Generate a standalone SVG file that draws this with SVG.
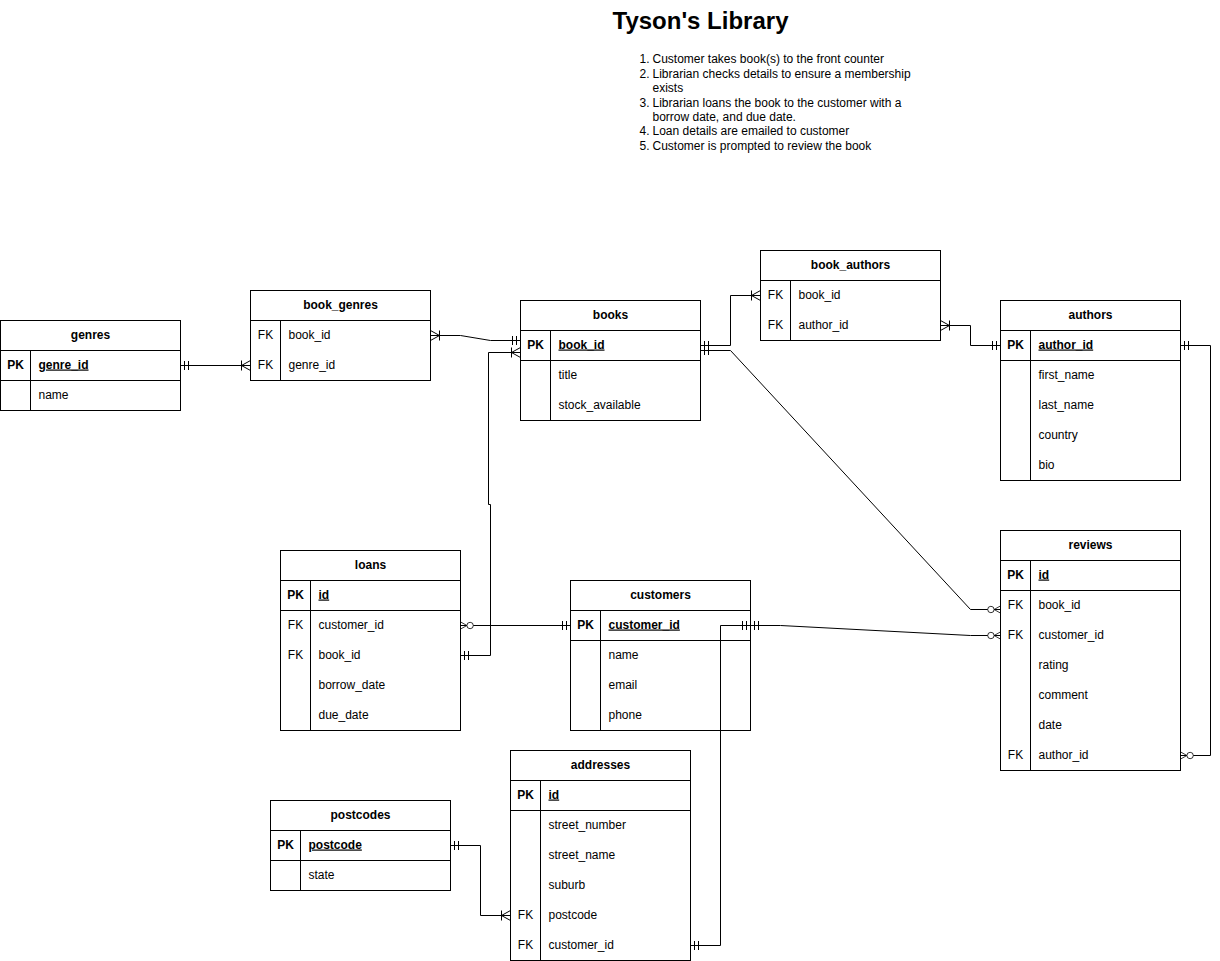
<svg xmlns="http://www.w3.org/2000/svg" width="1220" height="961" viewBox="0 0 1220 961">
<style>
.bg{fill:#fff}
.tb{fill:#fff;stroke:#000;stroke-width:1}
.ln{fill:none;stroke:#000;stroke-width:1}
text{font-family:"Liberation Sans",Arial,sans-serif;font-size:12px;fill:#000}
.h{font-weight:bold;text-anchor:middle}
.k{text-anchor:middle}
.kb{text-anchor:middle;font-weight:bold}
.pk{font-weight:bold;text-decoration:underline}
.title{font-size:24px;font-weight:bold;text-anchor:middle}
</style>
<defs>
<marker id="one" markerUnits="userSpaceOnUse" orient="auto-start-reverse" refX="0" refY="0" markerWidth="20" markerHeight="20" viewBox="-15 -10 20 20" overflow="visible">
<path d="M-4,-4.5V4.5M-8,-4.5V4.5" fill="none" stroke="#000"/>
</marker>
<marker id="many" markerUnits="userSpaceOnUse" orient="auto-start-reverse" refX="0" refY="0" markerWidth="20" markerHeight="20" viewBox="-15 -10 20 20" overflow="visible">
<path d="M0,-5L-9,0L0,5M-9,-5V5" fill="none" stroke="#000"/>
</marker>
<marker id="zmany" markerUnits="userSpaceOnUse" orient="auto-start-reverse" refX="0" refY="0" markerWidth="20" markerHeight="20" viewBox="-20 -10 25 20" overflow="visible">
<path d="M0,-4.5L-8,0L0,4.5" fill="none" stroke="#000"/>
<circle cx="-12" cy="0" r="4" fill="#fff" stroke="#000"/>
</marker>
</defs>
<rect class="bg" x="0" y="0" width="1220" height="961"/>
<g transform="translate(0.5,0.5)">
<g id="title">
<text class="title" x="700" y="28">Tyson's Library</text>
<text x="639" y="62">1.</text><text x="652" y="62">Customer takes book(s) to the front counter</text>
<text x="639" y="77">2.</text><text x="652" y="77">Librarian checks details to ensure a membership</text>
<text x="652" y="91">exists</text>
<text x="639" y="106">3.</text><text x="652" y="106">Librarian loans the book to the customer with a</text>
<text x="652" y="120">borrow date, and due date.</text>
<text x="639" y="134">4.</text><text x="652" y="134">Loan details are emailed to customer</text>
<text x="639" y="149">5.</text><text x="652" y="149">Customer is prompted to review the book</text>
</g>
<g id="genres">
<rect class="tb" x="0" y="320" width="180" height="90"/>
<path class="ln" d="M0,350H180M0,380H180M30,350V410"/>
<text class="h" x="90" y="338">genres</text>
<text class="kb" x="15" y="368">PK</text><text class="pk" x="38" y="368">genre_id</text>
<text x="38" y="398">name</text>
</g>
<g id="book_genres">
<rect class="tb" x="250" y="290" width="180" height="90"/>
<path class="ln" d="M250,320H430M280,320V380"/>
<text class="h" x="340" y="308">book_genres</text>
<text class="k" x="265" y="338">FK</text><text x="288" y="338">book_id</text>
<text class="k" x="265" y="368">FK</text><text x="288" y="368">genre_id</text>
</g>
<g id="books">
<rect class="tb" x="520" y="300" width="180" height="120"/>
<path class="ln" d="M520,330H700M520,360H700M550,330V420"/>
<text class="h" x="610" y="318">books</text>
<text class="kb" x="535" y="348">PK</text><text class="pk" x="558" y="348">book_id</text>
<text x="558" y="378">title</text>
<text x="558" y="408">stock_available</text>
</g>
<g id="book_authors">
<rect class="tb" x="760" y="250" width="180" height="90"/>
<path class="ln" d="M760,280H940M790,280V340"/>
<text class="h" x="850" y="268">book_authors</text>
<text class="k" x="775" y="298">FK</text><text x="798" y="298">book_id</text>
<text class="k" x="775" y="328">FK</text><text x="798" y="328">author_id</text>
</g>
<g id="authors">
<rect class="tb" x="1000" y="300" width="180" height="180"/>
<path class="ln" d="M1000,330H1180M1000,360H1180M1030,330V480"/>
<text class="h" x="1090" y="318">authors</text>
<text class="kb" x="1015" y="348">PK</text><text class="pk" x="1038" y="348">author_id</text>
<text x="1038" y="378">first_name</text>
<text x="1038" y="408">last_name</text>
<text x="1038" y="438">country</text>
<text x="1038" y="468">bio</text>
</g>
<g id="reviews">
<rect class="tb" x="1000" y="530" width="180" height="240"/>
<path class="ln" d="M1000,560H1180M1000,590H1180M1030,560V770"/>
<text class="h" x="1090" y="548">reviews</text>
<text class="kb" x="1015" y="578">PK</text><text class="pk" x="1038" y="578">id</text>
<text class="k" x="1015" y="608">FK</text><text x="1038" y="608">book_id</text>
<text class="k" x="1015" y="638">FK</text><text x="1038" y="638">customer_id</text>
<text x="1038" y="668">rating</text>
<text x="1038" y="698">comment</text>
<text x="1038" y="728">date</text>
<text class="k" x="1015" y="758">FK</text><text x="1038" y="758">author_id</text>
</g>
<g id="loans">
<rect class="tb" x="280" y="550" width="180" height="180"/>
<path class="ln" d="M280,580H460M280,610H460M310,580V730"/>
<text class="h" x="370" y="568">loans</text>
<text class="kb" x="295" y="598">PK</text><text class="pk" x="318" y="598">id</text>
<text class="k" x="295" y="628">FK</text><text x="318" y="628">customer_id</text>
<text class="k" x="295" y="658">FK</text><text x="318" y="658">book_id</text>
<text x="318" y="688">borrow_date</text>
<text x="318" y="718">due_date</text>
</g>
<g id="customers">
<rect class="tb" x="570" y="580" width="180" height="150"/>
<path class="ln" d="M570,610H750M570,640H750M600,610V730"/>
<text class="h" x="660" y="598">customers</text>
<text class="kb" x="585" y="628">PK</text><text class="pk" x="608" y="628">customer_id</text>
<text x="608" y="658">name</text>
<text x="608" y="688">email</text>
<text x="608" y="718">phone</text>
</g>
<g id="addresses">
<rect class="tb" x="510" y="750" width="180" height="210"/>
<path class="ln" d="M510,780H690M510,810H690M540,780V960"/>
<text class="h" x="600" y="768">addresses</text>
<text class="kb" x="525" y="798">PK</text><text class="pk" x="548" y="798">id</text>
<text x="548" y="828">street_number</text>
<text x="548" y="858">street_name</text>
<text x="548" y="888">suburb</text>
<text class="k" x="525" y="918">FK</text><text x="548" y="918">postcode</text>
<text class="k" x="525" y="948">FK</text><text x="548" y="948">customer_id</text>
</g>
<g id="postcodes">
<rect class="tb" x="270" y="800" width="180" height="90"/>
<path class="ln" d="M270,830H450M270,860H450M300,830V890"/>
<text class="h" x="360" y="818">postcodes</text>
<text class="kb" x="285" y="848">PK</text><text class="pk" x="308" y="848">postcode</text>
<text x="308" y="878">state</text>
</g>
<g id="connectors">
<path class="ln" d="M180,365H250" marker-start="url(#one)" marker-end="url(#many)"/>
<path class="ln" d="M430,335H460L490,340H520" marker-start="url(#many)" marker-end="url(#one)"/>
<path class="ln" d="M460,655H490V504H488V352H520" marker-start="url(#one)" marker-end="url(#many)"/>
<path class="ln" d="M700,345H730V295H760" marker-start="url(#one)" marker-end="url(#many)"/>
<path class="ln" d="M700,350H730L970,609H1000" marker-start="url(#one)" marker-end="url(#zmany)"/>
<path class="ln" d="M940,325H970V345H1000" marker-start="url(#many)" marker-end="url(#one)"/>
<path class="ln" d="M1180,345H1210V755H1180" marker-start="url(#one)" marker-end="url(#zmany)"/>
<path class="ln" d="M460,625H570" marker-start="url(#zmany)" marker-end="url(#one)"/>
<path class="ln" d="M750,625H780L970,635H1000" marker-start="url(#one)" marker-end="url(#zmany)"/>
<path class="ln" d="M690,945H720V625H750" marker-start="url(#one)" marker-end="url(#one)"/>
<path class="ln" d="M450,845H480V915H510" marker-start="url(#one)" marker-end="url(#many)"/>
</g>
</g>
</svg>
